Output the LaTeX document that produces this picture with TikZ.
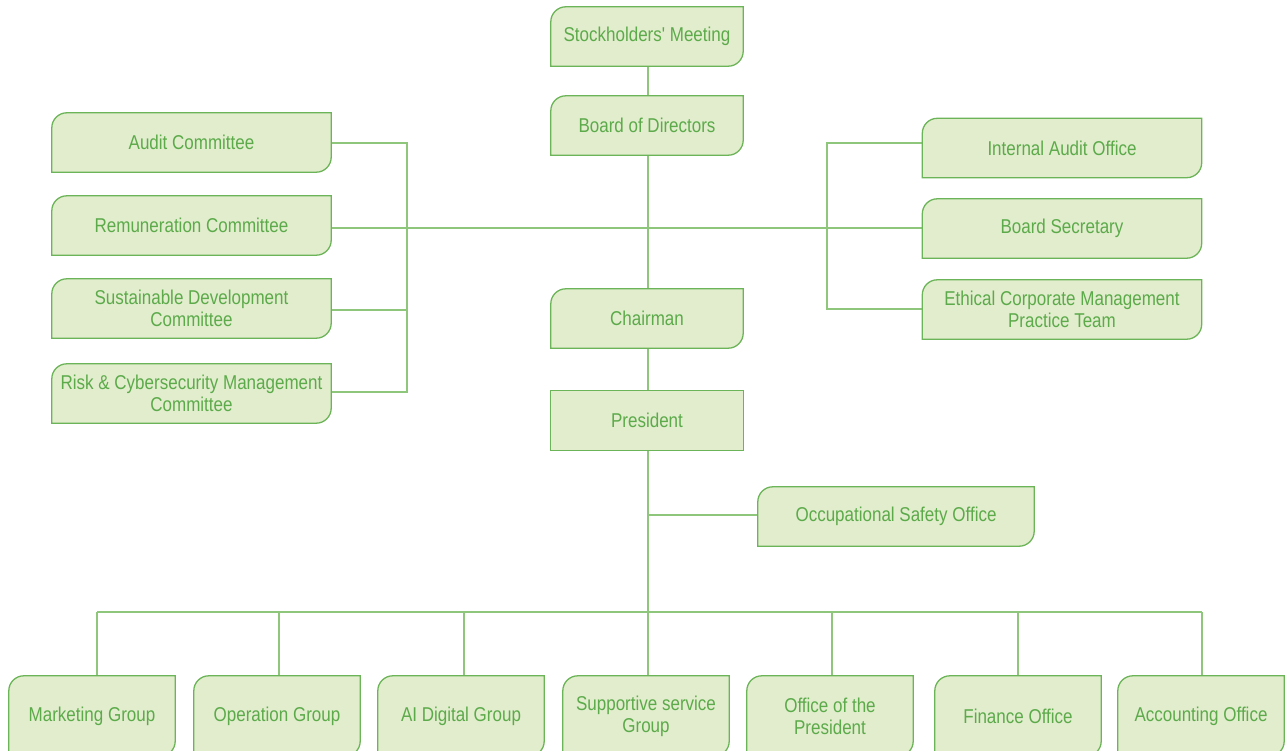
\documentclass[tikz,border=0pt]{standalone}
\usepackage{fontspec}
\setmainfont{Liberation Sans}[FakeStretch=0.85, Ligatures=TeXOff]
\usetikzlibrary{backgrounds}
\definecolor{boxfill}{RGB}{225,237,205}
\definecolor{boxline}{RGB}{108,180,88}
\definecolor{boxtext}{RGB}{92,170,74}
\definecolor{linkline}{RGB}{142,198,124}
\tikzset{
  box/.style={text=boxtext, font=\fontsize{20}{22}\selectfont, align=center,
    minimum height=59pt, inner sep=0pt},
  boxshape/.style={fill=boxfill, draw=boxline, line width=1.3pt},
  link/.style={draw=linkline, line width=1.5pt},
}
\newcommand\docshape[1]{\path[boxshape] (#1.south west) -- ([yshift=-15pt]#1.north west) arc[start angle=180,end angle=90,radius=15pt] -- (#1.north east) -- ([yshift=15pt]#1.south east) arc[start angle=0,end angle=-90,radius=15pt] -- cycle;}
\begin{document}
\begin{tikzpicture}[x=1pt,y=1pt]
\useasboundingbox (0,0) rectangle (1285,-751);
% center column
\node[box, minimum width=192pt] (stock) at (647,-36.5) {Stockholders' Meeting};
\node[box, minimum width=192pt] (board) at (647,-125.5) {Board of Directors};
\node[box, minimum width=192pt] (chair) at (647,-318.5) {Chairman};
\node[box, minimum width=192pt] (pres) at (647,-420.5) {President};
\node[box, minimum width=276pt] (occ) at (896,-516.5) {Occupational Safety Office};
% left committees
\node[box, minimum width=279pt] (audit) at (191.5,-142.5) {Audit Committee};
\node[box, minimum width=279pt] (remun) at (191.5,-225.5) {Remuneration Committee};
\node[box, minimum width=279pt] (sust) at (191.5,-308.5) {Sustainable Development\\Committee};
\node[box, minimum width=279pt] (risk) at (191.5,-393.5) {Risk \& Cybersecurity Management\\Committee};
% right offices
\node[box, minimum width=279pt] (intaud) at (1062,-148) {Internal Audit Office};
\node[box, minimum width=279pt] (bsec) at (1062,-228.5) {Board Secretary};
\node[box, minimum width=279pt] (ethic) at (1062,-309.5) {Ethical Corporate Management\\Practice Team};
% bottom row
\node[box, minimum width=166pt, minimum height=80pt] (mkt) at (92,-716) {Marketing Group};
\node[box, minimum width=166pt, minimum height=80pt] (oper) at (277,-716) {Operation Group};
\node[box, minimum width=166pt, minimum height=80pt] (aidg) at (461,-716) {AI Digital Group};
\node[box, minimum width=166pt, minimum height=80pt] (supp) at (646,-716) {Supportive service\\Group};
\node[box, minimum width=166pt, minimum height=80pt] (offp) at (830,-716) {Office of the\\President};
\node[box, minimum width=166pt, minimum height=80pt] (fin) at (1018,-716) {Finance Office};
\node[box, minimum width=166pt, minimum height=80pt] (acct) at (1201,-716) {Accounting Office};
% junction coordinates
\coordinate (cL) at (648,-228);
\coordinate (lbusT) at (407,-143);
\coordinate (lbusB) at (407,-392);
\coordinate (rbusT) at (827,-143);
\coordinate (rbusB) at (827,-309);
\coordinate (occJ) at (648,-515);
\coordinate (botJ) at (648,-612);
\coordinate (botL) at (97,-612);
\coordinate (botR) at (1202,-612);
\begin{scope}[on background layer]
  \draw[link] (stock.south -| 648,0) -- (board.south -| 648,0);
  \draw[link] (board.south -| 648,0) -- (chair.north -| 648,0);
  \draw[link] (chair.south -| 648,0) -- (pres.north -| 648,0);
  \draw[link] (pres.south -| 648,0) -- (botJ);
  \draw[link] (occJ) -- (occ.west |- occJ);
  \draw[link] (remun.east |- cL) -- (bsec.west |- cL);
  \draw[link] (audit.east |- lbusT) -- (lbusT) -- (lbusB) -- (risk.east |- lbusB);
  \draw[link] (sust.east |- 0,-310) -- (407,-310);
  \draw[link] (intaud.west |- rbusT) -- (rbusT) -- (rbusB) -- (ethic.west |- rbusB);
  \draw[link] (botL) -- (botR);
  \draw[link] (botL) -- (mkt.north -| botL);
  \draw[link] (279,-612) -- (oper.north -| 279,0);
  \draw[link] (464,-612) -- (aidg.north -| 464,0);
  \draw[link] (botJ) -- (supp.north -| botJ);
  \draw[link] (832,-612) -- (offp.north -| 832,0);
  \draw[link] (1018,-612) -- (fin.north -| 1018,0);
  \draw[link] (botR) -- (acct.north -| botR);
  \docshape{stock}
  \docshape{board}
  \docshape{chair}
  \path[boxshape] (pres.south west) rectangle (pres.north east);
  \docshape{occ}
  \docshape{audit}
  \docshape{remun}
  \docshape{sust}
  \docshape{risk}
  \docshape{intaud}
  \docshape{bsec}
  \docshape{ethic}
  \docshape{mkt}
  \docshape{oper}
  \docshape{aidg}
  \docshape{supp}
  \docshape{offp}
  \docshape{fin}
  \docshape{acct}
\end{scope}
\end{tikzpicture}
\end{document}
